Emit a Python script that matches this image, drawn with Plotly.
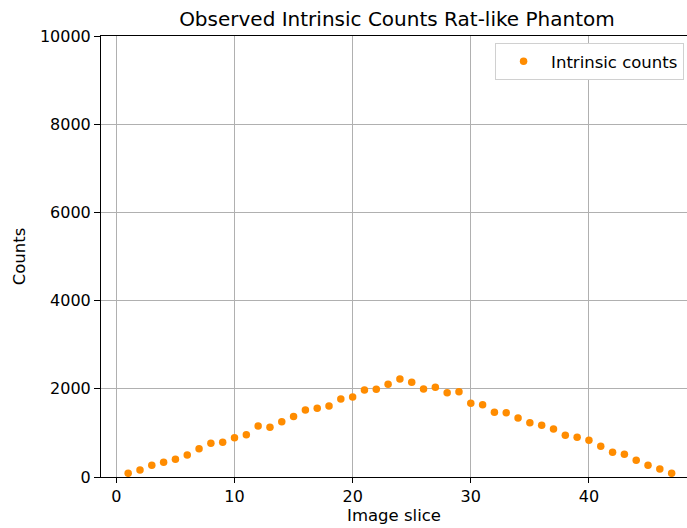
import plotly.graph_objects as go

slices = list(range(1, 48))
counts = [84, 159, 265, 333, 401, 499, 642, 764, 786, 892,
          960, 1156, 1126, 1254, 1370, 1519, 1557, 1610, 1769, 1814,
          1973, 1988, 2101, 2222, 2147, 1995, 2033, 1912, 1935, 1670,
          1636, 1466, 1459, 1338, 1232, 1172, 1088, 945, 900, 832,
          696, 560, 515, 378, 265, 181, 84]
# error bars are too small to be seen behind the markers
count_errors = [9, 13, 16, 18, 20, 22, 25, 28, 28, 30,
                31, 34, 34, 35, 37, 39, 39, 40, 42, 43,
                44, 45, 46, 47, 46, 45, 45, 44, 44, 41,
                40, 38, 38, 37, 35, 34, 33, 31, 30, 29,
                26, 24, 23, 19, 16, 13, 9]

title = "Observed Intrinsic Counts Rat-like Phantom"
x_title = "Image slice"
y_title = "Counts"
x_ticks = [0, 10, 20, 30, 40]
y_ticks = [0, 2000, 4000, 6000, 8000, 10000]

font = "DejaVu Sans"

fig = go.Figure()
fig.add_trace(go.Scatter(
    x=slices, y=counts, mode="markers", name="Intrinsic counts",
    marker=dict(color="#ff8c00", size=7.5, line=dict(width=0)),
    error_y=dict(type="data", array=count_errors, visible=True,
                 color="#ff8c00", thickness=1.5, width=0),
))

fig.update_layout(
    width=687, height=528,
    margin=dict(l=101, r=0, t=36, b=51),
    paper_bgcolor="white", plot_bgcolor="white",
    font=dict(family=font, size=16, color="black"),
    title=dict(text=title, x=0.505, xref="paper", xanchor="center",
               y=1 - 19 / 528, yanchor="middle", font=dict(size=20)),
    showlegend=True,
    legend=dict(x=0.995, y=0.984, xanchor="right", yanchor="top",
                bgcolor="white", bordercolor="#d0d0d0", borderwidth=1,
                itemwidth=45, font=dict(size=16.5)),
)
fig.update_xaxes(
    range=[-1.3, 48.3], tickvals=x_ticks, ticks="outside", ticklen=5,
    tickwidth=1, tickcolor="black", showline=True, linecolor="black",
    linewidth=1, mirror=True, showgrid=True, gridcolor="#b0b0b0",
    gridwidth=1, zeroline=False, tickfont=dict(size=16),
    title=dict(text=x_title, standoff=4, font=dict(size=16.5)),
)
fig.update_yaxes(
    range=[0, 10000], tickvals=y_ticks, ticks="outside", ticklen=6,
    tickwidth=1, tickcolor="black", showline=True, linecolor="black",
    linewidth=1, showgrid=True, gridcolor="#b0b0b0", gridwidth=1,
    zeroline=False, tickformat="d", tickfont=dict(size=16),
    title=dict(text=y_title, standoff=10, font=dict(size=16.5)),
)

fig.write_html("out.html")
